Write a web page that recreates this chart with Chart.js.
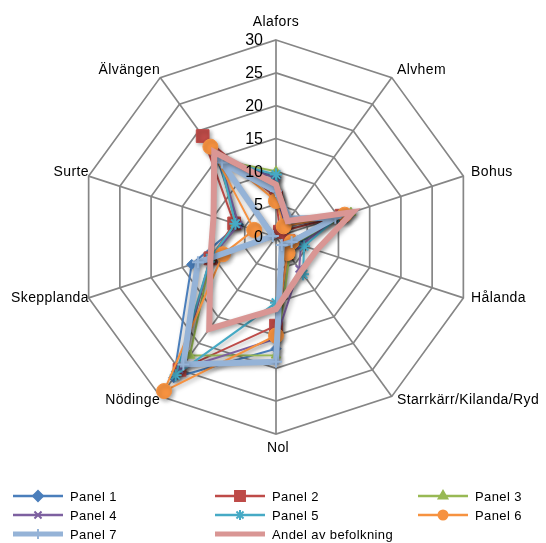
<!DOCTYPE html>
<html>
<head>
<meta charset="utf-8">
<script src="https://cdn.jsdelivr.net/npm/chart.js"></script>
<style>
  html, body { margin: 0; padding: 0; background: #fff; }
  canvas { display: block; }
</style>
</head>
<body>
<canvas id="radar" width="546" height="543"></canvas>
<script>
const categories = ['Alafors', 'Alvhem', 'Bohus', 'Hålanda', 'Starrkärr/Kilanda/Ryd', 'Nol', 'Nödinge', 'Skepplanda', 'Surte', 'Älvängen'];
const tickValues = [0, 5, 10, 15, 20, 25, 30];

const panel1 = [9, 2, 10, 3.5, 3, 17, 26.5, 13.5, 6, 15.5];
const panel2 = [6, 1, 10.5, 2, 3, 13.5, 25, 10.5, 6.7, 19];
const panel3 = [10, 2.5, 12, 3, 3.5, 18, 22.3, 10.5, 6.5, 14.5];
const panel4 = [9, 2, 10, 4, 6, 15.5, 25, 10.5, 6, 14.5];
const panel5 = [9.5, 2.5, 10, 4.5, 7, 10, 26, 10.5, 6.5, 14.5];
const panel6 = [5.5, 2, 11, 2.5, 3, 15, 29, 8.5, 3.5, 17];
const panel7 = [7, 3.5, 9.5, 2.5, 1.5, 19, 24, 12.5, 0.5, 14];
const andelBefolkning = [8, 3, 12.3, 6.5, 6.5, 11, 17.3, 10.5, 10, 16];

const FONT = '"Liberation Sans", Arial, sans-serif';
const GRID = '#868686';

const series = [
  {label: 'Panel 1', data: panel1, color: '#4A7EBB', width: 2, style: 'rectRot', radius: 5, key: 5},
  {label: 'Panel 2', data: panel2, color: '#BE4B48', width: 2, style: 'rect', radius: 9, key: 7},
  {label: 'Panel 3', data: panel3, color: '#98B954', width: 2, style: 'triangle', radius: 5.5, key: 5},
  {label: 'Panel 4', data: panel4, color: '#7D60A0', width: 2, style: 'crossRot', radius: 5, key: 5},
  {label: 'Panel 5', data: panel5, color: '#46AAC5', width: 2, style: 'star', radius: 6, key: 5},
  {label: 'Panel 6', data: panel6, color: '#F69240', width: 2, style: 'circle', radius: 7.5, key: 4.5},
  {label: 'Panel 7', data: panel7, color: '#95B3D7', width: 6, style: 'cross', radius: 6, key: 5},
  {label: 'Andel av befolkning', data: andelBefolkning, color: '#D99694', width: 6, style: false, radius: 0, key: 0}
];

// soft drop shadow under every series, lines and markers alike
const seriesShadow = {
  id: 'seriesShadow',
  beforeDatasetDraw(chart) {
    const ctx = chart.ctx;
    ctx.save();
    ctx.shadowColor = 'rgba(0,0,0,0.35)';
    ctx.shadowBlur = 4;
    ctx.shadowOffsetX = 2;
    ctx.shadowOffsetY = 2;
  },
  afterDatasetDraw(chart) {
    chart.ctx.restore();
  }
};

// tick numbers left of the top spoke and the town names round the web
const radarText = {
  id: 'radarText',
  afterDatasetsDraw(chart) {
    const r = chart.scales.r;
    const ctx = chart.ctx;
    ctx.save();
    ctx.fillStyle = '#000';
    ctx.font = '16px ' + FONT;
    ctx.textAlign = 'right';
    ctx.textBaseline = 'middle';
    r.ticks.forEach(t => {
      const y = r.yCenter - r.getDistanceFromCenterForValue(t.value);
      ctx.fillText(String(t.value), r.xCenter - 13, y + 1);
    });

    ctx.font = '14px ' + FONT;
    ctx.letterSpacing = '0.4px';
    categories.forEach((name, i) => {
      const p = r.getPointPosition(i, r.drawingArea + 7);
      const dx = p.x - r.xCenter;
      let x = p.x, y = p.y - 2;
      if (Math.abs(dx) < 1) {
        ctx.textAlign = 'center';
        y = p.y < r.yCenter ? r.yCenter - r.drawingArea - 18 : r.yCenter + r.drawingArea + 14;
        x = r.xCenter + (p.y < r.yCenter ? 0 : 2);
      } else if (dx > 0) {
        ctx.textAlign = 'left';
        x += 1;
      } else {
        ctx.textAlign = 'right';
        x += Math.abs(p.y - r.yCenter) < 90 ? 7 : 4;
      }
      ctx.fillText(name, x, y);
    });
    ctx.restore();
  }
};

// three-column legend under the plot
const gridLegend = {
  id: 'gridLegend',
  afterDraw(chart, args, options) {
    const ctx = chart.ctx;
    ctx.save();
    chart.data.datasets.forEach((ds, i) => {
      const col = i % 3, row = Math.floor(i / 3);
      const x0 = options.columns[col];
      const y = options.rows[row];
      ctx.strokeStyle = ds.borderColor;
      ctx.lineWidth = ds.borderWidth > 3 ? 5 : 2.5;
      ctx.beginPath();
      ctx.moveTo(x0, y);
      ctx.lineTo(x0 + 50, y);
      ctx.stroke();
      if (ds.pointStyle) {
        ctx.fillStyle = ds.borderColor;
        ctx.lineWidth = 2;
        Chart.helpers.drawPoint(ctx, {
          pointStyle: ds.pointStyle,
          radius: series[i].key,
          rotation: 0,
          borderWidth: 1.5
        }, x0 + 25, y);
      }
      ctx.fillStyle = '#000';
      ctx.font = '13px ' + FONT;
      ctx.letterSpacing = '0.4px';
      ctx.textAlign = 'left';
      ctx.textBaseline = 'middle';
      ctx.fillText(ds.label, x0 + 57, y + 1);
    });
    ctx.restore();
  }
};

new Chart(document.getElementById('radar'), {
  type: 'radar',
  data: {
    labels: categories,
    datasets: series.map((s, i) => ({
      label: s.label,
      data: s.data,
      borderColor: s.color,
      backgroundColor: s.color,
      pointBackgroundColor: s.color,
      pointBorderColor: s.color,
      borderWidth: s.width,
      pointStyle: s.style,
      pointRadius: s.radius,
      pointBorderWidth: s.style === 'cross' || s.style === 'crossRot' || s.style === 'star' ? 2 : 1,
      fill: false,
      tension: 0,
      order: series.length - i
    }))
  },
  options: {
    responsive: false,
    animation: false,
    layout: {padding: {left: 79, right: 73, top: 40, bottom: 109}},
    scales: {
      r: {
        min: 0,
        max: 30,
        afterBuildTicks: scale => {
          scale.ticks = tickValues.map(v => ({value: v}));
        },
        ticks: {display: false, stepSize: 5},
        pointLabels: {display: false},
        grid: {color: GRID, lineWidth: 1.7},
        angleLines: {color: GRID, lineWidth: 1.7}
      }
    },
    plugins: {
      legend: {display: false},
      tooltip: {enabled: false},
      gridLegend: {columns: [13, 215, 418], rows: [496, 515, 534]}
    }
  },
  plugins: [seriesShadow, radarText, gridLegend]
});
</script>
</body>
</html>
